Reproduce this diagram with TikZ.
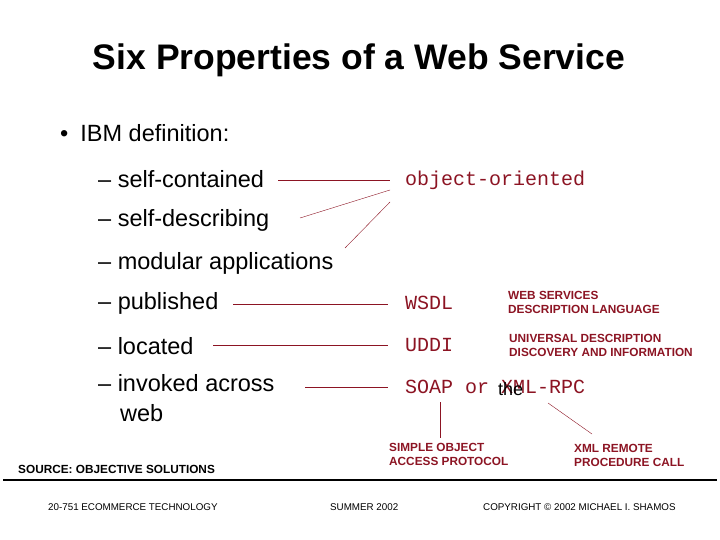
\documentclass[tikz,border=0pt]{standalone}
\usepackage{fontspec}
\setmainfont{Liberation Sans}
\newfontfamily\monofont{Liberation Mono}
\definecolor{wsred}{RGB}{140,20,35}
\begin{document}
\begin{tikzpicture}
[x=1pt,y=-1pt,every node/.style={inner sep=0pt,anchor=west},
 item/.style={font=\fontsize{23.5}{28}\selectfont},
 term/.style={font=\monofont\fontsize{20}{24}\selectfont,text=wsred},
 note/.style={font=\bfseries\fontsize{11.8}{14}\selectfont,text=wsred,align=left},
 foot/.style={font=\fontsize{9.8}{12}\selectfont},
 link/.style={draw=wsred,thin}]
   \useasboundingbox (0,0) rectangle (720,540);
   \node[anchor=center,font=\bfseries\fontsize{35.5}{40}\selectfont] (title) at (359,60) {Six Properties of a Web Service};
   \node[item] (ibm) at (60,133) {\textbullet\hspace{12pt}IBM definition:};
   \node[item] (sc) at (98,179) {-- self-contained};
   \node[item] (sd) at (98,220) {-- self-describing};
   \node[item] (mod) at (98,263) {-- modular applications};
   \node[item] (pub) at (98,303) {-- published};
   \node[item] (loc) at (98,346) {-- located};
   \node[item,anchor=north west,align=left] (inv) at (98,374) {-- invoked across\\[2pt]\hspace{22pt}web};
   \node[term] (oo) at (405,180) {object-oriented};
   \node[term] (wsdl) at (405,303) {WSDL};
   \node[term] (uddi) at (405,345) {UDDI};
   \node[term] (soap) at (405,387) {SOAP or XML-RPC};
   \node[font=\fontsize{18}{20}\selectfont] (the) at (498,389) {the};
   \node[note] (wsdln) at (508,302) {WEB SERVICES\\DESCRIPTION LANGUAGE};
   \node[note] (uddin) at (509,345) {UNIVERSAL DESCRIPTION\\DISCOVERY AND INFORMATION};
   \node[note] (soapn) at (389,454) {SIMPLE OBJECT\\ACCESS PROTOCOL};
   \node[note] (rpcn) at (574,455) {XML REMOTE\\PROCEDURE CALL};
   \node[font=\bfseries\fontsize{11.8}{14}\selectfont] (src) at (18,469) {SOURCE: OBJECTIVE SOLUTIONS};
   \node[foot] (course) at (48,507) {20-751 ECOMMERCE TECHNOLOGY};
   \node[foot] (term) at (330,507) {SUMMER 2002};
   \node[foot] (copy) at (483,507) {COPYRIGHT \textcopyright\ 2002 MICHAEL I. SHAMOS};
   \coordinate (rule l) at (3,480);
   \coordinate (rule r) at (717,480);
   \draw[line width=1.2pt] (rule l) -- (rule r);
   \coordinate (sc e) at (278,180);
   \coordinate (oo w) at (390,180);
   \coordinate (oo a) at (390,190);
   \coordinate (oo b) at (390,202);
   \coordinate (sd e) at (300,218);
   \coordinate (mod e) at (345,248);
   \coordinate (pub e) at (233,304);
   \coordinate (loc e) at (213,345);
   \coordinate (inv e) at (305,387);
   \coordinate (wsdl w) at (388,304);
   \coordinate (uddi w) at (388,345);
   \coordinate (soap w) at (388,387);
   \coordinate (soap s) at (440,402);
   \coordinate (soapn n) at (440,438);
   \coordinate (rpc s) at (548,403);
   \coordinate (rpcn n) at (592,434);
   \draw[link] (sc e) -- (oo w);
   \draw[link] (sd e) -- (oo a);
   \draw[link] (mod e) -- (oo b);
   \draw[link] (pub e) -- (wsdl w);
   \draw[link] (loc e) -- (uddi w);
   \draw[link] (inv e) -- (soap w);
   \draw[link] (soap s) -- (soapn n);
   \draw[link] (rpc s) -- (rpcn n);
\end{tikzpicture}
\end{document}
